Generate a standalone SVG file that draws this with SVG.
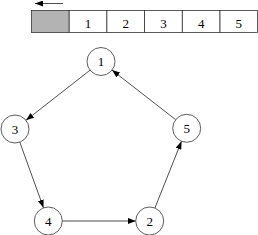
<svg xmlns="http://www.w3.org/2000/svg" width="258" height="235" viewBox="0 0 258 235">
<style>
.c{fill:#fff;stroke:#333;stroke-width:0.8}
.cell{fill:#fff;stroke:#333;stroke-width:0.8}
.t{font-family:"Liberation Serif",serif;font-size:13px;fill:#000;text-anchor:middle}
.e{stroke:#222;stroke-width:0.8;fill:none;marker-end:url(#ah)}
</style>
<defs>
<marker id="ah" markerUnits="userSpaceOnUse" markerWidth="9" markerHeight="6" refX="8" refY="3" orient="auto">
<path d="M0,0 L8,3 L0,6 Z" fill="#000"/>
</marker>
</defs>
<g id="array">
<line x1="63" y1="3.5" x2="35" y2="3.5" class="e"/>
<rect x="31.5" y="10.5" width="37.7" height="22" fill="#b3b3b3" stroke="#333" stroke-width="0.8"/>
<rect x="69.2" y="10.5" width="37.7" height="22" class="cell"/>
<rect x="106.9" y="10.5" width="37.7" height="22" class="cell"/>
<rect x="144.6" y="10.5" width="37.7" height="22" class="cell"/>
<rect x="182.3" y="10.5" width="37.7" height="22" class="cell"/>
<rect x="220" y="10.5" width="37.5" height="22" class="cell"/>
<text x="88" y="28" class="t">1</text>
<text x="125.8" y="28" class="t">2</text>
<text x="163.5" y="28" class="t">3</text>
<text x="201.2" y="28" class="t">4</text>
<text x="238.8" y="28" class="t">5</text>
</g>
<g id="edges">
<line x1="90" y1="70.2" x2="26" y2="120.3" class="e"/>
<line x1="19.8" y1="142.2" x2="43.5" y2="207.8" class="e"/>
<line x1="62.3" y1="221" x2="135.7" y2="221" class="e"/>
<line x1="154.9" y1="208" x2="181.5" y2="141.3" class="e"/>
<line x1="175.7" y1="119.7" x2="112" y2="70.1" class="e"/>
</g>
<g id="n1"><circle cx="101" cy="61.5" r="14" class="c"/><text x="101" y="66" class="t">1</text></g>
<g id="n3"><circle cx="15" cy="129" r="14" class="c"/><text x="15" y="133.5" class="t">3</text></g>
<g id="n5"><circle cx="186.7" cy="128.3" r="14" class="c"/><text x="186.7" y="132.8" class="t">5</text></g>
<g id="n4"><circle cx="48.3" cy="221" r="14" class="c"/><text x="48.3" y="225.5" class="t">4</text></g>
<g id="n2"><circle cx="149.7" cy="221" r="14" class="c"/><text x="149.7" y="225.5" class="t">2</text></g>
</svg>
